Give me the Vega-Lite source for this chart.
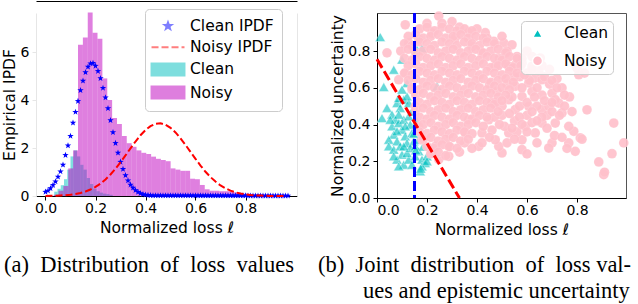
{
  "$schema": "https://vega.github.io/schema/vega-lite/v6.json",
  "background": "white",
  "padding": {"left": 2, "top": 1, "right": 0, "bottom": 0},
  "autosize": {"type": "pad"},
  "config": {
    "view": {"stroke": null},
    "font": "DejaVu Sans",
    "axis": {"grid": false, "labelFont": "DejaVu Sans", "titleFont": "DejaVu Sans", "labelFontSize": 14, "titleFontSize": 15.5, "titleFontWeight": "normal", "labelColor": "#000000", "titleColor": "#000000", "tickColor": "#000000", "domainColor": "#000000", "tickSize": 4, "labelPadding": 1, "domainWidth": 1, "tickWidth": 1},
    "legend": {"labelFont": "DejaVu Sans", "labelFontSize": 15.5, "labelColor": "#000000", "strokeColor": "#cccccc", "fillColor": "rgba(255,255,255,0.8)", "cornerRadius": 4},
    "title": {"font": "Liberation Serif", "fontSize": 22.5, "fontWeight": "normal", "color": "#000000"}
  },
  "datasets": {
    "cleanHist": [
      {"lo":0.035,"hi":0.048,"h":0.18},{"lo":0.048,"hi":0.061,"h":0.3},{"lo":0.061,"hi":0.074,"h":0.45},{"lo":0.074,"hi":0.087,"h":0.7},{"lo":0.087,"hi":0.1,"h":1.1},{"lo":0.1,"hi":0.113,"h":1.65},{"lo":0.113,"hi":0.126,"h":1.9},{"lo":0.126,"hi":0.139,"h":1.65},{"lo":0.139,"hi":0.152,"h":1.3},{"lo":0.152,"hi":0.165,"h":1.1},{"lo":0.165,"hi":0.178,"h":0.75},{"lo":0.178,"hi":0.191,"h":0.5},{"lo":0.191,"hi":0.204,"h":0.3},{"lo":0.204,"hi":0.217,"h":0.2},{"lo":0.217,"hi":0.23,"h":0.14},{"lo":0.23,"hi":0.243,"h":0.1},{"lo":0.243,"hi":0.256,"h":0.08},{"lo":0.256,"hi":0.269,"h":0.05}
    ],
    "noisyHist": [
      {"lo":0.0325,"hi":0.052,"h":0.05},{"lo":0.052,"hi":0.0715,"h":0.22},{"lo":0.0715,"hi":0.091,"h":0.42},{"lo":0.091,"hi":0.1105,"h":1.15},{"lo":0.1105,"hi":0.13,"h":1.9},{"lo":0.13,"hi":0.1495,"h":6.3},{"lo":0.1495,"hi":0.169,"h":6.6},{"lo":0.169,"hi":0.1885,"h":7.65},{"lo":0.1885,"hi":0.208,"h":6.8},{"lo":0.208,"hi":0.2275,"h":6.55},{"lo":0.2275,"hi":0.247,"h":4.9},{"lo":0.247,"hi":0.2665,"h":4.0},{"lo":0.2665,"hi":0.286,"h":3.25},{"lo":0.286,"hi":0.3055,"h":3.0},{"lo":0.3055,"hi":0.325,"h":2.5},{"lo":0.325,"hi":0.3445,"h":2.2},{"lo":0.3445,"hi":0.364,"h":2.05},{"lo":0.364,"hi":0.3835,"h":1.9},{"lo":0.3835,"hi":0.403,"h":1.8},{"lo":0.403,"hi":0.4225,"h":1.75},{"lo":0.4225,"hi":0.442,"h":1.64},{"lo":0.442,"hi":0.4615,"h":1.55},{"lo":0.4615,"hi":0.481,"h":1.5},{"lo":0.481,"hi":0.5005,"h":1.45},{"lo":0.5005,"hi":0.52,"h":1.15},{"lo":0.52,"hi":0.5395,"h":1.1},{"lo":0.5395,"hi":0.559,"h":1.05},{"lo":0.559,"hi":0.5785,"h":1.05},{"lo":0.5785,"hi":0.598,"h":0.72},{"lo":0.598,"hi":0.6175,"h":0.7},{"lo":0.6175,"hi":0.637,"h":0.46},{"lo":0.637,"hi":0.6565,"h":0.28},{"lo":0.6565,"hi":0.676,"h":0.22},{"lo":0.676,"hi":0.6955,"h":0.22},{"lo":0.6955,"hi":0.715,"h":0.2},{"lo":0.715,"hi":0.7345,"h":0.2},{"lo":0.7345,"hi":0.754,"h":0.2},{"lo":0.754,"hi":0.7735,"h":0.15},{"lo":0.7735,"hi":0.793,"h":0.12},{"lo":0.793,"hi":0.8125,"h":0.09},{"lo":0.8125,"hi":0.832,"h":0.08},{"lo":0.832,"hi":0.8515,"h":0.07},{"lo":0.8515,"hi":0.871,"h":0.06},{"lo":0.871,"hi":0.8905,"h":0.05},{"lo":0.8905,"hi":0.91,"h":0.05},{"lo":0.91,"hi":0.9295,"h":0.04},{"lo":0.9295,"hi":0.949,"h":0.03},{"lo":0.949,"hi":0.9685,"h":0.02}
    ],
    "cleanPdf": [
      {"l":0.0,"d":0.17},{"l":0.01,"d":0.22},{"l":0.02,"d":0.32},{"l":0.03,"d":0.45},{"l":0.04,"d":0.6},{"l":0.05,"d":0.8},{"l":0.06,"d":1.02},{"l":0.07,"d":1.3},{"l":0.08,"d":1.7},{"l":0.09,"d":2.1},{"l":0.1,"d":2.5},{"l":0.11,"d":3.05},{"l":0.12,"d":3.5},{"l":0.13,"d":3.95},{"l":0.14,"d":4.4},{"l":0.15,"d":4.8},{"l":0.16,"d":5.15},{"l":0.17,"d":5.38},{"l":0.18,"d":5.52},{"l":0.19,"d":5.54},{"l":0.2,"d":5.42},{"l":0.21,"d":5.2},{"l":0.22,"d":4.9},{"l":0.23,"d":4.5},{"l":0.24,"d":4.1},{"l":0.25,"d":3.65},{"l":0.26,"d":3.15},{"l":0.27,"d":2.65},{"l":0.28,"d":2.2},{"l":0.29,"d":1.8},{"l":0.3,"d":1.42},{"l":0.31,"d":1.12},{"l":0.32,"d":0.86},{"l":0.33,"d":0.64},{"l":0.34,"d":0.47},{"l":0.35,"d":0.34},{"l":0.36,"d":0.24},{"l":0.37,"d":0.16},{"l":0.38,"d":0.11},{"l":0.39,"d":0.07},{"l":0.4,"d":0.05},{"l":0.41,"d":0.035},{"l":0.42,"d":0.025},
      {"l":0.43,"d":0.02},{"l":0.44,"d":0.02},{"l":0.45,"d":0.02},{"l":0.46,"d":0.02},{"l":0.47,"d":0.02},{"l":0.48,"d":0.02},{"l":0.49,"d":0.02},{"l":0.5,"d":0.02},{"l":0.51,"d":0.02},{"l":0.52,"d":0.02},{"l":0.53,"d":0.02},{"l":0.54,"d":0.02},{"l":0.55,"d":0.02},{"l":0.56,"d":0.02},{"l":0.57,"d":0.02},{"l":0.58,"d":0.02},{"l":0.59,"d":0.02},{"l":0.6,"d":0.02},
      {"l":0.61,"d":0.015},{"l":0.62,"d":0.015},{"l":0.63,"d":0.015},{"l":0.64,"d":0.015},{"l":0.65,"d":0.015},{"l":0.66,"d":0.015},{"l":0.67,"d":0.015},{"l":0.68,"d":0.015},{"l":0.69,"d":0.015},{"l":0.7,"d":0.015},{"l":0.71,"d":0.015},{"l":0.72,"d":0.015},{"l":0.73,"d":0.015},{"l":0.74,"d":0.015},{"l":0.75,"d":0.015},{"l":0.76,"d":0.015},{"l":0.77,"d":0.015},{"l":0.78,"d":0.015},{"l":0.79,"d":0.015},{"l":0.8,"d":0.015},
      {"l":0.81,"d":0.01},{"l":0.82,"d":0.01},{"l":0.83,"d":0.01},{"l":0.84,"d":0.01},{"l":0.85,"d":0.01},{"l":0.86,"d":0.01},{"l":0.87,"d":0.01},{"l":0.88,"d":0.01},{"l":0.89,"d":0.01},{"l":0.9,"d":0.01},{"l":0.91,"d":0.01},{"l":0.92,"d":0.01},{"l":0.93,"d":0.01},{"l":0.94,"d":0.01},{"l":0.95,"d":0.01},{"l":0.96,"d":0.01},{"l":0.97,"d":0.01}
    ],
    "noisyPdf": [
      {"l":0.0,"d":0.004},{"l":0.02,"d":0.007},{"l":0.04,"d":0.012},{"l":0.06,"d":0.021},{"l":0.08,"d":0.034},{"l":0.1,"d":0.054},{"l":0.12,"d":0.084},{"l":0.14,"d":0.127},{"l":0.16,"d":0.187},{"l":0.18,"d":0.269},{"l":0.2,"d":0.378},{"l":0.22,"d":0.518},{"l":0.24,"d":0.69},{"l":0.26,"d":0.897},{"l":0.28,"d":1.137},{"l":0.3,"d":1.405},{"l":0.32,"d":1.691},{"l":0.34,"d":1.985},{"l":0.36,"d":2.27},{"l":0.38,"d":2.53},{"l":0.4,"d":2.75},{"l":0.42,"d":2.91},{"l":0.44,"d":3.01},{"l":0.46,"d":3.03},{"l":0.48,"d":2.97},{"l":0.5,"d":2.84},{"l":0.52,"d":2.65},{"l":0.54,"d":2.4},{"l":0.56,"d":2.13},{"l":0.58,"d":1.84},{"l":0.6,"d":1.55},{"l":0.62,"d":1.27},{"l":0.64,"d":1.01},{"l":0.66,"d":0.79},{"l":0.68,"d":0.6},{"l":0.7,"d":0.44},{"l":0.72,"d":0.32},{"l":0.74,"d":0.225},{"l":0.76,"d":0.154},{"l":0.78,"d":0.103},{"l":0.8,"d":0.067},{"l":0.82,"d":0.043},{"l":0.84,"d":0.026},{"l":0.86,"d":0.016},{"l":0.88,"d":0.009},{"l":0.9,"d":0.005},{"l":0.92,"d":0.003},{"l":0.94,"d":0.002},{"l":0.96,"d":0.001}
    ],
    "cleanPts": [
      {"l":0.013,"u":0.876},{"l":0.067,"u":0.698},{"l":0.027,"u":0.604},{"l":0.02,"u":0.435},{"l":0.04,"u":0.49},{"l":0.08,"u":0.517},{"l":0.087,"u":0.544},{"l":0.107,"u":0.535},{"l":0.127,"u":0.517},{"l":0.12,"u":0.553},{"l":0.093,"u":0.49},{"l":0.06,"u":0.454},{"l":0.073,"u":0.426},{"l":0.06,"u":0.39},{"l":0.087,"u":0.408},{"l":0.107,"u":0.426},{"l":0.127,"u":0.444},{"l":0.133,"u":0.399},{"l":0.1,"u":0.372},{"l":0.067,"u":0.345},{"l":0.047,"u":0.317},{"l":0.08,"u":0.308},{"l":0.113,"u":0.336},{"l":0.14,"u":0.354},{"l":0.047,"u":0.281},{"l":0.067,"u":0.263},{"l":0.093,"u":0.281},{"l":0.12,"u":0.299},{"l":0.147,"u":0.308},{"l":0.1,"u":0.236},{"l":0.08,"u":0.209},{"l":0.107,"u":0.181},{"l":0.127,"u":0.209},{"l":0.153,"u":0.227},{"l":0.167,"u":0.254},{"l":0.18,"u":0.209},{"l":0.193,"u":0.19},{"l":0.173,"u":0.145},{"l":0.18,"u":0.172},{"l":0.14,"u":0.181},{"l":0.12,"u":0.245},{"l":0.133,"u":0.272},{"l":0.153,"u":0.281},{"l":0.167,"u":0.317},{"l":0.16,"u":0.807},{"l":0.18,"u":0.816},{"l":0.1,"u":0.753},{"l":0.12,"u":0.626},{"l":0.24,"u":0.608},{"l":0.1,"u":0.59},{"l":0.087,"u":0.454},{"l":0.113,"u":0.39},{"l":0.08,"u":0.363},{"l":0.053,"u":0.426},{"l":0.107,"u":0.281},{"l":0.067,"u":0.227},{"l":0.087,"u":0.172},{"l":0.2,"u":0.227},{"l":0.147,"u":0.35},{"l":0.16,"u":0.42},{"l":0.14,"u":0.47},{"l":0.155,"u":0.26},{"l":0.185,"u":0.28},{"l":0.2,"u":0.2},{"l":0.175,"u":0.16}
    ],
    "noisyPts": [
      {"l":0.04,"u":0.79},{"l":0.113,"u":0.943},{"l":0.247,"u":0.99},{"l":0.367,"u":0.9},{"l":0.433,"u":0.9},{"l":0.467,"u":0.853},{"l":0.507,"u":0.844},{"l":0.54,"u":0.834},{"l":0.653,"u":0.762},{"l":0.633,"u":0.653},{"l":0.66,"u":0.644},{"l":0.74,"u":0.599},{"l":0.7,"u":0.571},{"l":0.727,"u":0.517},{"l":0.74,"u":0.463},{"l":0.8,"u":0.707},{"l":0.807,"u":0.671},{"l":0.84,"u":0.48},{"l":0.947,"u":0.408},{"l":0.987,"u":0.3},{"l":0.94,"u":0.241},{"l":0.887,"u":0.196},{"l":0.907,"u":0.127},{"l":0.91,"u":0.14},{"l":0.787,"u":0.363},{"l":0.813,"u":0.327},{"l":0.793,"u":0.254},{"l":0.767,"u":0.3},{"l":0.7,"u":0.3},{"l":0.687,"u":0.272},{"l":0.58,"u":0.263},{"l":0.58,"u":0.317},{"l":0.5,"u":0.245},{"l":0.487,"u":0.281},{"l":0.527,"u":0.354},{"l":0.593,"u":0.39},{"l":0.633,"u":0.354},{"l":0.66,"u":0.481},{"l":0.607,"u":0.499},{"l":0.553,"u":0.481},{"l":0.527,"u":0.535},{"l":0.58,"u":0.553},{"l":0.713,"u":0.408},{"l":0.687,"u":0.499},{"l":0.66,"u":0.408},{"l":0.607,"u":0.626},{"l":0.553,"u":0.608},{"l":0.713,"u":0.535},{"l":0.767,"u":0.39},{"l":0.473,"u":0.317},{"l":0.407,"u":0.281},{"l":0.42,"u":0.354},{"l":0.287,"u":0.227},{"l":0.247,"u":0.209},{"l":0.22,"u":0.245},{"l":0.233,"u":0.281},{"l":0.287,"u":0.281},{"l":0.353,"u":0.354},{"l":0.367,"u":0.426},{"l":0.447,"u":0.426},{"l":0.473,"u":0.517},{"l":0.527,"u":0.717},{"l":0.58,"u":0.735},{"l":0.62,"u":0.717},{"l":0.647,"u":0.689},{"l":0.473,"u":0.717},{"l":0.42,"u":0.789},{"l":0.38,"u":0.825},{"l":0.313,"u":0.871},{"l":0.22,"u":0.898},{"l":0.167,"u":0.862},{"l":0.127,"u":0.844},{"l":0.113,"u":0.68},{"l":0.087,"u":0.644},{"l":0.14,"u":0.59},{"l":0.153,"u":0.499},{"l":0.167,"u":0.39},{"l":0.18,"u":0.317},{"l":0.5,"u":0.45},{"l":0.55,"u":0.42},{"l":0.6,"u":0.45},{"l":0.64,"u":0.5},{"l":0.62,"u":0.58},{"l":0.66,"u":0.56},{"l":0.69,"u":0.62},{"l":0.6,"u":0.68},{"l":0.57,"u":0.66},{"l":0.64,"u":0.74},{"l":0.69,"u":0.7},{"l":0.72,"u":0.65},{"l":0.51,"u":0.39},{"l":0.46,"u":0.37},{"l":0.56,"u":0.36},{"l":0.62,"u":0.41},{"l":0.68,"u":0.45},{"l":0.75,"u":0.5},{"l":0.77,"u":0.55},{"l":0.52,"u":0.3},{"l":0.55,"u":0.32},{"l":0.64,"u":0.3},{"l":0.6,"u":0.24},{"l":0.71,"u":0.34},{"l":0.74,"u":0.33},{"l":0.82,"u":0.32},{"l":0.76,"u":0.27},{"l":0.83,"u":0.68},{"l":0.6,"u":0.8},{"l":0.56,"u":0.77},{"l":0.5,"u":0.88},{"l":0.4,"u":0.92},{"l":0.44,"u":0.87},{"l":0.3,"u":0.96},{"l":0.26,"u":0.95},{"l":0.2,"u":0.95},{"l":0.33,"u":0.93},
      {"l":0.45,"u":0.62},{"l":0.48,"u":0.58},{"l":0.52,"u":0.62},{"l":0.55,"u":0.66},{"l":0.58,"u":0.6},{"l":0.61,"u":0.64},{"l":0.64,"u":0.6},{"l":0.67,"u":0.66},{"l":0.7,"u":0.64},{"l":0.46,"u":0.52},{"l":0.5,"u":0.5},{"l":0.54,"u":0.55},{"l":0.57,"u":0.5},{"l":0.6,"u":0.52},{"l":0.63,"u":0.55},{"l":0.67,"u":0.53},{"l":0.47,"u":0.44},{"l":0.53,"u":0.46},{"l":0.57,"u":0.44},{"l":0.62,"u":0.47},{"l":0.66,"u":0.44},{"l":0.7,"u":0.47},{"l":0.49,"u":0.4},{"l":0.54,"u":0.38},{"l":0.58,"u":0.4},{"l":0.64,"u":0.42},{"l":0.6,"u":0.36},{"l":0.68,"u":0.38},{"l":0.62,"u":0.7},{"l":0.66,"u":0.72},{"l":0.55,"u":0.72},{"l":0.58,"u":0.76},{"l":0.52,"u":0.8},{"l":0.49,"u":0.76},{"l":0.62,"u":0.77},{"l":0.72,"u":0.6},{"l":0.75,"u":0.56},{"l":0.7,"u":0.52},{"l":0.73,"u":0.45},{"l":0.78,"u":0.47},{"l":0.45,"u":0.33},{"l":0.42,"u":0.3},{"l":0.38,"u":0.27},{"l":0.35,"u":0.3},{"l":0.33,"u":0.25},
      {"l":0.17,"u":0.92},{"l":0.2,"u":0.93},{"l":0.23,"u":0.91},{"l":0.26,"u":0.93},{"l":0.29,"u":0.92},{"l":0.32,"u":0.91},{"l":0.35,"u":0.92},{"l":0.38,"u":0.91},
      {"l":0.125,"u":0.88},{"l":0.155,"u":0.89},{"l":0.185,"u":0.87},{"l":0.215,"u":0.88},{"l":0.245,"u":0.89},{"l":0.275,"u":0.87},{"l":0.305,"u":0.88},{"l":0.335,"u":0.89},{"l":0.365,"u":0.87},{"l":0.395,"u":0.88},{"l":0.425,"u":0.87},
      {"l":0.11,"u":0.84},{"l":0.14,"u":0.83},{"l":0.17,"u":0.85},{"l":0.2,"u":0.84},{"l":0.23,"u":0.83},{"l":0.26,"u":0.85},{"l":0.29,"u":0.84},{"l":0.32,"u":0.83},{"l":0.35,"u":0.85},{"l":0.38,"u":0.84},{"l":0.41,"u":0.83},{"l":0.44,"u":0.85},{"l":0.47,"u":0.84},
      {"l":0.095,"u":0.8},{"l":0.125,"u":0.81},{"l":0.155,"u":0.79},{"l":0.185,"u":0.8},{"l":0.215,"u":0.81},{"l":0.245,"u":0.79},{"l":0.275,"u":0.8},{"l":0.305,"u":0.81},{"l":0.335,"u":0.79},{"l":0.365,"u":0.8},{"l":0.395,"u":0.81},{"l":0.425,"u":0.79},{"l":0.455,"u":0.8},{"l":0.485,"u":0.81},{"l":0.515,"u":0.79},
      {"l":0.11,"u":0.76},{"l":0.14,"u":0.75},{"l":0.17,"u":0.77},{"l":0.2,"u":0.76},{"l":0.23,"u":0.75},{"l":0.26,"u":0.77},{"l":0.29,"u":0.76},{"l":0.32,"u":0.75},{"l":0.35,"u":0.77},{"l":0.38,"u":0.76},{"l":0.41,"u":0.75},{"l":0.44,"u":0.77},{"l":0.47,"u":0.76},{"l":0.5,"u":0.75},{"l":0.53,"u":0.77},{"l":0.56,"u":0.76},
      {"l":0.125,"u":0.72},{"l":0.155,"u":0.73},{"l":0.185,"u":0.71},{"l":0.215,"u":0.72},{"l":0.245,"u":0.73},{"l":0.275,"u":0.71},{"l":0.305,"u":0.72},{"l":0.335,"u":0.73},{"l":0.365,"u":0.71},{"l":0.395,"u":0.72},{"l":0.425,"u":0.73},{"l":0.455,"u":0.71},{"l":0.485,"u":0.72},{"l":0.515,"u":0.73},{"l":0.545,"u":0.71},{"l":0.575,"u":0.72},
      {"l":0.11,"u":0.68},{"l":0.14,"u":0.67},{"l":0.17,"u":0.69},{"l":0.2,"u":0.68},{"l":0.23,"u":0.67},{"l":0.26,"u":0.69},{"l":0.29,"u":0.68},{"l":0.32,"u":0.67},{"l":0.35,"u":0.69},{"l":0.38,"u":0.68},{"l":0.41,"u":0.67},{"l":0.44,"u":0.69},{"l":0.47,"u":0.68},{"l":0.5,"u":0.67},{"l":0.53,"u":0.69},{"l":0.56,"u":0.68},{"l":0.59,"u":0.67},
      {"l":0.125,"u":0.64},{"l":0.155,"u":0.65},{"l":0.185,"u":0.63},{"l":0.215,"u":0.64},{"l":0.245,"u":0.65},{"l":0.275,"u":0.63},{"l":0.305,"u":0.64},{"l":0.335,"u":0.65},{"l":0.365,"u":0.63},{"l":0.395,"u":0.64},{"l":0.425,"u":0.65},{"l":0.455,"u":0.63},{"l":0.485,"u":0.64},{"l":0.515,"u":0.65},{"l":0.545,"u":0.63},
      {"l":0.14,"u":0.6},{"l":0.17,"u":0.59},{"l":0.2,"u":0.61},{"l":0.23,"u":0.6},{"l":0.26,"u":0.59},{"l":0.29,"u":0.61},{"l":0.32,"u":0.6},{"l":0.35,"u":0.59},{"l":0.38,"u":0.61},{"l":0.41,"u":0.6},{"l":0.44,"u":0.59},{"l":0.47,"u":0.61},{"l":0.5,"u":0.6},{"l":0.53,"u":0.59},
      {"l":0.155,"u":0.56},{"l":0.185,"u":0.57},{"l":0.215,"u":0.55},{"l":0.245,"u":0.56},{"l":0.275,"u":0.57},{"l":0.305,"u":0.55},{"l":0.335,"u":0.56},{"l":0.365,"u":0.57},{"l":0.395,"u":0.55},{"l":0.425,"u":0.56},{"l":0.455,"u":0.57},{"l":0.485,"u":0.55},{"l":0.515,"u":0.56},
      {"l":0.17,"u":0.52},{"l":0.2,"u":0.51},{"l":0.23,"u":0.53},{"l":0.26,"u":0.52},{"l":0.29,"u":0.51},{"l":0.32,"u":0.53},{"l":0.35,"u":0.52},{"l":0.38,"u":0.51},{"l":0.41,"u":0.53},{"l":0.44,"u":0.52},{"l":0.47,"u":0.51},{"l":0.5,"u":0.53},
      {"l":0.155,"u":0.48},{"l":0.185,"u":0.49},{"l":0.215,"u":0.47},{"l":0.245,"u":0.48},{"l":0.275,"u":0.49},{"l":0.305,"u":0.47},{"l":0.335,"u":0.48},{"l":0.365,"u":0.49},{"l":0.395,"u":0.47},{"l":0.425,"u":0.48},{"l":0.455,"u":0.49},{"l":0.485,"u":0.47},
      {"l":0.17,"u":0.44},{"l":0.2,"u":0.43},{"l":0.23,"u":0.45},{"l":0.26,"u":0.44},{"l":0.29,"u":0.43},{"l":0.32,"u":0.45},{"l":0.35,"u":0.44},{"l":0.38,"u":0.43},{"l":0.41,"u":0.45},{"l":0.44,"u":0.44},
      {"l":0.185,"u":0.4},{"l":0.215,"u":0.41},{"l":0.245,"u":0.39},{"l":0.275,"u":0.4},{"l":0.305,"u":0.41},{"l":0.335,"u":0.39},{"l":0.365,"u":0.4},{"l":0.395,"u":0.41},{"l":0.425,"u":0.39},
      {"l":0.17,"u":0.36},{"l":0.2,"u":0.35},{"l":0.23,"u":0.37},{"l":0.26,"u":0.36},{"l":0.29,"u":0.35},{"l":0.32,"u":0.37},{"l":0.35,"u":0.36},{"l":0.38,"u":0.35},
      {"l":0.185,"u":0.32},{"l":0.215,"u":0.33},{"l":0.245,"u":0.31},{"l":0.275,"u":0.32},{"l":0.305,"u":0.33},{"l":0.335,"u":0.31},{"l":0.365,"u":0.32},
      {"l":0.2,"u":0.28},{"l":0.23,"u":0.27},{"l":0.26,"u":0.29},{"l":0.29,"u":0.28},{"l":0.32,"u":0.27},
      {"l":0.215,"u":0.24},{"l":0.245,"u":0.25},{"l":0.275,"u":0.23}
    ],
    "threshold": [{"t": 0.15}],
    "boundary": [{"l": 0.0, "u": 0.755}, {"l": 0.33, "u": 0.0}]
  },
  "resolve": {"scale": {"color": "independent", "shape": "independent"}, "legend": {"color": "independent", "shape": "independent"}},
  "hconcat": [
    {
      "width": 261,
      "height": 183,
      "title": {"text": "(a)\u00a0 Distribution\u00a0 of\u00a0 loss\u00a0 values", "orient": "bottom", "anchor": "start", "frame": "group", "dx": -32, "offset": 18},
      "resolve": {"axis": {"x": "independent", "y": "independent"}},
      "layer": [
        {
          "data": {"name": "cleanHist"},
          "mark": {"type": "bar", "opacity": 0.5},
          "encoding": {
            "x": {"field": "lo", "type": "quantitative", "scale": {"domain": [-0.038, 1.006], "nice": false, "zero": false}, "axis": {"values": [0, 0.2, 0.4, 0.6, 0.8], "format": ".1f", "title": "Normalized loss ℓ", "titlePadding": 5}},
            "x2": {"field": "hi"},
            "y": {"field": "h", "type": "quantitative", "scale": {"domain": [0, 7.625], "nice": false}, "axis": {"values": [0, 2, 4, 6], "title": "Empirical IPDF", "domainColor": "#e6e6e6", "tickColor": "#e6e6e6", "labelPadding": 3, "titlePadding": 3}},
            "y2": {"datum": 0},
            "color": {
              "datum": "Clean",
              "scale": {"domain": ["Clean IPDF", "Noisy IPDF", "Clean", "Noisy"], "range": ["#0000ff", "#ff0000", "#00bfbf", "#bf00bf"]},
              "legend": {
                "title": null, "orient": "none", "legendX": 109, "legendY": -4, "padding": 8, "rowPadding": 3.2, "symbolSize": 256, "symbolOffset": 6, "labelOffset": 13,
                "symbolType": {"expr": "datum.value === 'Clean IPDF' ? 'M0,-0.44L0.103,-0.143L0.418,-0.136L0.167,0.055L0.259,0.356L0,0.176L-0.259,0.356L-0.167,0.055L-0.418,-0.136L-0.103,-0.143Z' : datum.value === 'Noisy IPDF' ? 'M-2.06,0H2.06' : 'M-2.06,-0.75H2.06V0.75H-2.06Z'"},
                "symbolStrokeColor": {"expr": "datum.value === 'Noisy IPDF' ? '#ff0000' : 'transparent'"},
                "symbolStrokeWidth": 2,
                "symbolDash": {"expr": "datum.value === 'Noisy IPDF' ? [7,3] : [1,0]"},
                "symbolOpacity": {"expr": "datum.value === 'Clean' || datum.value === 'Noisy' ? 0.5 : 1"}
              }
            }
          }
        },
        {
          "data": {"name": "noisyHist"},
          "mark": {"type": "bar", "opacity": 0.5},
          "encoding": {
            "x": {"field": "lo", "type": "quantitative", "axis": null},
            "x2": {"field": "hi"},
            "y": {"field": "h", "type": "quantitative", "axis": null},
            "y2": {"datum": 0},
            "color": {"datum": "Noisy"}
          }
        },
        {
          "data": {"name": "cleanPdf"},
          "mark": {"type": "point", "shape": "M0,-1L0.235,-0.324L0.951,-0.309L0.38,0.124L0.588,0.809L0,0.4L-0.588,0.809L-0.38,0.124L-0.951,-0.309L-0.235,-0.324Z", "filled": true, "size": 45, "opacity": 1},
          "encoding": {
            "x": {"field": "l", "type": "quantitative", "axis": null},
            "y": {"field": "d", "type": "quantitative", "axis": null},
            "color": {"datum": "Clean IPDF"}
          }
        },
        {
          "data": {"name": "noisyPdf"},
          "mark": {"type": "line", "strokeWidth": 2, "strokeDash": [7, 3]},
          "encoding": {
            "x": {"field": "l", "type": "quantitative", "axis": {"orient": "top", "labels": false, "ticks": false, "title": null, "domainColor": "#000000", "offset": 12}},
            "y": {"field": "d", "type": "quantitative", "axis": {"orient": "right", "labels": false, "ticks": false, "title": null, "domainColor": "#e6e6e6"}},
            "color": {"datum": "Noisy IPDF"}
          }
        }
      ]
    },
    {
      "width": 249,
      "height": 185,
      "view": {"stroke": "#555555"},
      "title": {"text": ["(b)\u00a0 Joint\u00a0 distribution\u00a0 of\u00a0 loss val-", "\u200b\u2002\u2002\u2002\u2002ues and epistemic uncertainty"], "orient": "bottom", "anchor": "start", "frame": "group", "dx": -59, "offset": 16, "lineHeight": 26},
      "resolve": {"axis": {"x": "independent", "y": "independent"}},
      "layer": [
        {
          "data": {"name": "cleanPts"},
          "mark": {"type": "point", "filled": true, "size": 105, "fillOpacity": 0.6, "stroke": "#ffffff", "strokeWidth": 0.8, "strokeOpacity": 0.5},
          "encoding": {
            "x": {"field": "l", "type": "quantitative", "scale": {"domain": [0, 0.996], "nice": false}, "axis": {"values": [0, 0.2, 0.4, 0.6, 0.8], "format": ".1f", "title": "Normalized loss ℓ", "titlePadding": 5}},
            "y": {"field": "u", "type": "quantitative", "scale": {"domain": [0, 1.007], "nice": false}, "axis": {"values": [0, 0.2, 0.4, 0.6, 0.8], "format": ".1f", "title": "Normalized uncertainty", "labelPadding": 3, "titlePadding": 2}},
            "color": {
              "datum": "Clean",
              "scale": {"domain": ["Clean", "Noisy"], "range": ["#00bfbf", "#ffc0cb"]},
              "legend": {"title": null, "orient": "none", "legendX": 144, "legendY": 8, "padding": 4.5, "rowPadding": 9.5, "symbolSize": 100, "symbolOffset": 4.3, "labelOffset": 18.7}
            },
            "shape": {"datum": "Clean", "scale": {"domain": ["Clean", "Noisy"], "range": ["triangle-up", "circle"]}}
          }
        },
        {
          "data": {"name": "noisyPts"},
          "mark": {"type": "point", "filled": true, "size": 95, "fillOpacity": 0.92, "stroke": "#ffffff", "strokeWidth": 0.5, "strokeOpacity": 0.3},
          "encoding": {
            "x": {"field": "l", "type": "quantitative", "axis": null},
            "y": {"field": "u", "type": "quantitative", "axis": null},
            "color": {"datum": "Noisy"},
            "shape": {"datum": "Noisy"}
          }
        },
        {
          "data": {"name": "threshold"},
          "mark": {"type": "rule", "color": "#0000ff", "strokeWidth": 3, "strokeDash": [10, 4]},
          "encoding": {"x": {"field": "t", "type": "quantitative", "axis": null}}
        },
        {
          "data": {"name": "boundary"},
          "mark": {"type": "line", "color": "#ff0000", "strokeWidth": 3, "strokeDash": [10, 4]},
          "encoding": {
            "x": {"field": "l", "type": "quantitative", "axis": null},
            "y": {"field": "u", "type": "quantitative", "axis": null}
          }
        }
      ]
    }
  ],
  "spacing": 80,
  "bounds": "flush"
}
